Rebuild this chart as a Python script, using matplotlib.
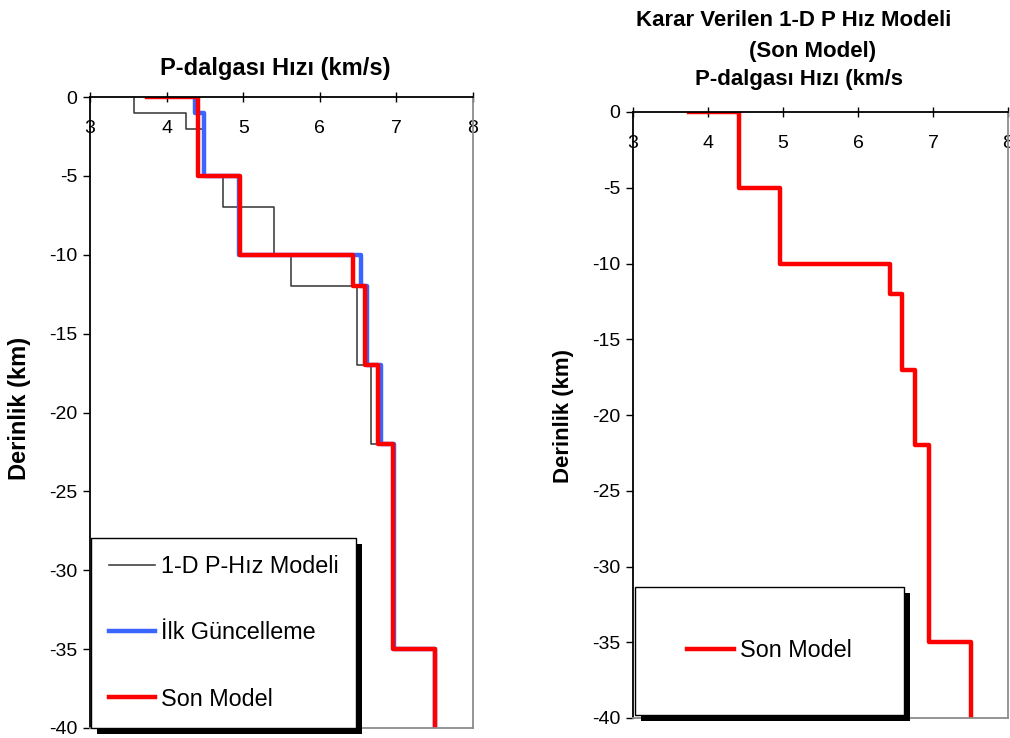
"""1-D P-wave velocity models: original, first update and final model."""
import numpy as np
import matplotlib
matplotlib.use('Agg')
import matplotlib.pyplot as plt
from matplotlib.patches import Rectangle
from matplotlib.transforms import IdentityTransform

plt.rcParams['font.family'] = ['Liberation Sans', 'DejaVu Sans']
plt.rcParams['axes.unicode_minus'] = False

# layer boundaries (km, negative down) and P velocities (km/s)
ref_bounds = [0, -1, -2, -5, -7, -10, -12, -17, -22, -35, -40]
ref_vel = [3.58, 4.25, 4.50, 4.73, 5.40, 5.62, 6.48, 6.67, 6.95, 7.50]

upd_bounds = [0, -1, -5, -10, -12, -17, -22, -35, -40]
upd_vel = [4.37, 4.49, 4.94, 6.54, 6.61, 6.80, 6.97, 7.50]

fin_bounds = [0, 0, -5, -10, -12, -17, -22, -35, -40]
fin_vel = [3.75, 4.41, 4.96, 6.43, 6.59, 6.76, 6.95, 7.50]

X_TICKS = [3, 4, 5, 6, 7, 8]
Y_TICKS = [0, -5, -10, -15, -20, -25, -30, -35, -40]

RED = '#ff0000'
BLUE = '#3a66ff'
GRAY_LINE = '#333333'


def steps(bounds, vel):
    """Turn layer bounds + velocities into a stair-step polyline."""
    b = np.asarray(bounds, dtype=float)
    x = np.repeat(np.asarray(vel, dtype=float), 2)
    y = np.column_stack([b[:-1], b[1:]]).ravel()
    return x, y


def style_axes(ax):
    ax.set_xlim(3, 8)
    ax.set_ylim(-40, 0)
    ax.set_xticks(X_TICKS)
    ax.set_yticks(Y_TICKS)
    ax.xaxis.set_ticks_position('top')
    ax.tick_params(axis='x', top=True, bottom=False, labeltop=True,
                   labelbottom=False, direction='inout', length=7,
                   width=1, pad=-32, labelsize=14)
    ax.tick_params(axis='y', direction='out', length=5, width=1,
                   pad=4, labelsize=14)
    ax.spines['top'].set_color('black')
    ax.spines['left'].set_color('black')
    ax.spines['right'].set_color('#8c8c8c')
    ax.spines['bottom'].set_color('#8c8c8c')
    for s in ax.spines.values():
        s.set_linewidth(1.3)


def add_shadow(ax, leg, off=6):
    bb = leg.get_frame().get_window_extent()
    rect = Rectangle((bb.x0 + off, bb.y0 - off), bb.width, bb.height,
                     transform=IdentityTransform(), facecolor='black',
                     edgecolor='none', zorder=leg.get_zorder() - 0.1,
                     clip_on=False)
    ax.add_artist(rect)


fig = plt.figure(figsize=(10.1, 7.38), dpi=100)
ax1 = fig.add_axes([90 / 1010, 1 - 728 / 738, 383 / 1010, 631 / 738])
ax2 = fig.add_axes([633 / 1010, 1 - 718 / 738, 375 / 1010, 606 / 738])

# left panel: all three models
x, y = steps(ref_bounds, ref_vel)
ax1.plot(x, y, color=GRAY_LINE, lw=1.1, label='1-D P-Hız Modeli')
x, y = steps(upd_bounds, upd_vel)
ax1.plot(x, y, color=BLUE, lw=3.2, label='İlk Güncelleme')
x, y = steps(fin_bounds, fin_vel)
ax1.plot(x, y, color=RED, lw=3.2, label='Son Model')
style_axes(ax1)

leg1 = ax1.legend(loc='lower left', bbox_to_anchor=(0.003, 0.0),
                  borderaxespad=0, fontsize=16.8, frameon=True, fancybox=False,
                  framealpha=1, edgecolor='black', handlelength=2.0,
                  handletextpad=0.25, labelspacing=1.85, borderpad=0.75)
leg1.get_frame().set_linewidth(1.0)

# right panel: final model only
x, y = steps(fin_bounds, fin_vel)
ax2.plot(x, y, color=RED, lw=3.2, label='Son Model')
style_axes(ax2)

leg2 = ax2.legend(loc='lower left', bbox_to_anchor=(0.005, 0.005),
                  borderaxespad=0, fontsize=16.8, frameon=True, fancybox=False,
                  framealpha=1, edgecolor='black', handlelength=2.0,
                  handletextpad=0.25, borderpad=2.25)
leg2.get_frame().set_linewidth(1.0)

fig.text(275 / 1010, 1 - 68 / 738, 'P-dalgası Hızı (km/s)', ha='center',
         va='center', fontsize=17, fontweight='bold')
fig.text(20 / 1010, 1 - 408 / 738, 'Derinlik (km)', ha='center', va='center',
         rotation=90, fontsize=17, fontweight='bold')

fig.text(794 / 1010, 1 - 20 / 738, 'Karar Verilen 1-D P Hız Modeli',
         ha='center', va='center', fontsize=16, fontweight='bold')
fig.text(813 / 1010, 1 - 52 / 738, '(Son Model)', ha='center', va='center',
         fontsize=16, fontweight='bold')
fig.text(799 / 1010, 1 - 80 / 738, 'P-dalgası Hızı (km/s', ha='center',
         va='center', fontsize=16, fontweight='bold')
fig.text(564 / 1010, 1 - 416 / 738, 'Derinlik (km)', ha='center',
         va='center', rotation=90, fontsize=16, fontweight='bold')

fig.canvas.draw()
add_shadow(ax1, leg1)
add_shadow(ax2, leg2)

fig.savefig('out.png', dpi=100)
